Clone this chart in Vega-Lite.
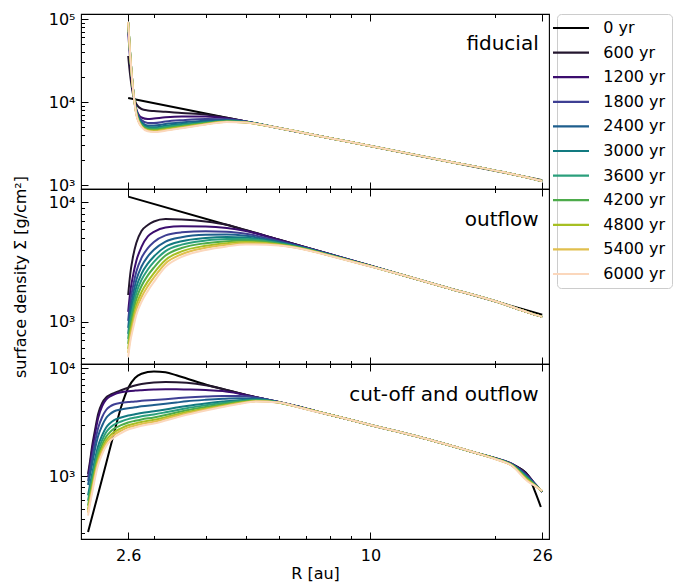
{
"$schema":"https://vega.github.io/schema/vega-lite/v6.json",
"background":"white",
"padding":{"left":11,"top":10,"right":0,"bottom":5},
"spacing":0,
"bounds":"flush",
"config":{
 "font":"DejaVu Sans",
 "view":{"stroke":"black","strokeWidth":1.1},
 "axis":{"labelFont":"DejaVu Sans","titleFont":"DejaVu Sans","labelColor":"black","titleColor":"black","tickColor":"black","tickWidth":1,"grid":false,"domain":false,"titleFontWeight":"normal","labelFontSize":16,"titleFontSize":16,"labelFlush":false,"labelOverlap":false,"labelBound":false},
 "legend":{"symbolType":"M-3,0H3","symbolStrokeWidth":2.2,"symbolSize":144,"labelFontSize":16,"labelFont":"DejaVu Sans","labelColor":"black","strokeColor":"#cccccc","fillColor":"white","cornerRadius":4,"padding":6,"rowPadding":8.6,"labelOffset":24.3,"orient":"right","offset":4}
},
"resolve":{"scale":{"x":"independent","y":"independent","color":"shared"},"legend":{"color":"shared"}},
"datasets":{
"fid":[
{"t":"0 yr","R":2.6,"S":11150},{"t":"0 yr","R":5,"S":5838},{"t":"0 yr","R":10,"S":2941},{"t":"0 yr","R":21,"S":1412},{"t":"0 yr","R":26,"S":1143},
{"t":"600 yr","R":2.6,"S":35830},{"t":"600 yr","R":2.63,"S":20570},{"t":"600 yr","R":2.67,"S":12490},{"t":"600 yr","R":2.72,"S":9460},{"t":"600 yr","R":2.8,"S":8236},{"t":"600 yr","R":2.9,"S":7900},{"t":"600 yr","R":3,"S":7791},{"t":"600 yr","R":3.2,"S":7640},{"t":"600 yr","R":3.5,"S":7372},{"t":"600 yr","R":4,"S":7070},{"t":"600 yr","R":4.5,"S":6451},{"t":"600 yr","R":5,"S":5824},{"t":"600 yr","R":6,"S":4861},{"t":"600 yr","R":8,"S":3664},{"t":"600 yr","R":10,"S":2951},{"t":"600 yr","R":15,"S":1979},{"t":"600 yr","R":21,"S":1422},{"t":"600 yr","R":24,"S":1231},{"t":"600 yr","R":26,"S":1117},
{"t":"1200 yr","R":2.6,"S":69720},{"t":"1200 yr","R":2.63,"S":31190},{"t":"1200 yr","R":2.67,"S":13570},{"t":"1200 yr","R":2.72,"S":8236},{"t":"1200 yr","R":2.8,"S":6506},{"t":"1200 yr","R":2.9,"S":6240},{"t":"1200 yr","R":3,"S":6327},{"t":"1200 yr","R":3.2,"S":6542},{"t":"1200 yr","R":3.5,"S":6688},{"t":"1200 yr","R":4,"S":6688},{"t":"1200 yr","R":4.5,"S":6362},{"t":"1200 yr","R":5,"S":5824},{"t":"1200 yr","R":6,"S":4861},{"t":"1200 yr","R":8,"S":3664},{"t":"1200 yr","R":10,"S":2951},{"t":"1200 yr","R":15,"S":1979},{"t":"1200 yr","R":21,"S":1422},{"t":"1200 yr","R":24,"S":1231},{"t":"1200 yr","R":26,"S":1117},
{"t":"1800 yr","R":2.6,"S":84660},{"t":"1800 yr","R":2.63,"S":34850},{"t":"1800 yr","R":2.67,"S":14340},{"t":"1800 yr","R":2.72,"S":8009},{"t":"1800 yr","R":2.8,"S":6069},{"t":"1800 yr","R":2.9,"S":5585},{"t":"1800 yr","R":3,"S":5585},{"t":"1800 yr","R":3.2,"S":5824},{"t":"1800 yr","R":3.5,"S":6035},{"t":"1800 yr","R":4,"S":6240},{"t":"1800 yr","R":4.5,"S":6189},{"t":"1800 yr","R":5,"S":5824},{"t":"1800 yr","R":6,"S":4861},{"t":"1800 yr","R":8,"S":3664},{"t":"1800 yr","R":10,"S":2951},{"t":"1800 yr","R":15,"S":1979},{"t":"1800 yr","R":21,"S":1422},{"t":"1800 yr","R":24,"S":1231},{"t":"1800 yr","R":26,"S":1117},
{"t":"2400 yr","R":2.6,"S":89480},{"t":"2400 yr","R":2.63,"S":36840},{"t":"2400 yr","R":2.67,"S":14750},{"t":"2400 yr","R":2.72,"S":7791},{"t":"2400 yr","R":2.8,"S":5741},{"t":"2400 yr","R":2.9,"S":5211},{"t":"2400 yr","R":3,"S":5211},{"t":"2400 yr","R":3.2,"S":5431},{"t":"2400 yr","R":3.5,"S":5662},{"t":"2400 yr","R":4,"S":5936},{"t":"2400 yr","R":4.5,"S":6035},{"t":"2400 yr","R":5,"S":5773},{"t":"2400 yr","R":6,"S":4861},{"t":"2400 yr","R":8,"S":3664},{"t":"2400 yr","R":10,"S":2951},{"t":"2400 yr","R":15,"S":1979},{"t":"2400 yr","R":21,"S":1422},{"t":"2400 yr","R":24,"S":1231},{"t":"2400 yr","R":26,"S":1117},
{"t":"3000 yr","R":2.6,"S":90730},{"t":"3000 yr","R":2.63,"S":36840},{"t":"3000 yr","R":2.67,"S":14750},{"t":"3000 yr","R":2.72,"S":7577},{"t":"3000 yr","R":2.8,"S":5508},{"t":"3000 yr","R":2.9,"S":4998},{"t":"3000 yr","R":3,"S":4957},{"t":"3000 yr","R":3.2,"S":5168},{"t":"3000 yr","R":3.5,"S":5431},{"t":"3000 yr","R":4,"S":5741},{"t":"3000 yr","R":4.5,"S":5936},{"t":"3000 yr","R":5,"S":5741},{"t":"3000 yr","R":6,"S":4861},{"t":"3000 yr","R":8,"S":3664},{"t":"3000 yr","R":10,"S":2951},{"t":"3000 yr","R":15,"S":1979},{"t":"3000 yr","R":21,"S":1422},{"t":"3000 yr","R":24,"S":1231},{"t":"3000 yr","R":26,"S":1117},
{"t":"3600 yr","R":2.6,"S":92010},{"t":"3600 yr","R":2.63,"S":36840},{"t":"3600 yr","R":2.67,"S":14750},{"t":"3600 yr","R":2.72,"S":7473},{"t":"3600 yr","R":2.8,"S":5357},{"t":"3600 yr","R":2.9,"S":4821},{"t":"3600 yr","R":3,"S":4794},{"t":"3600 yr","R":3.2,"S":4998},{"t":"3600 yr","R":3.5,"S":5254},{"t":"3600 yr","R":4,"S":5632},{"t":"3600 yr","R":4.5,"S":5871},{"t":"3600 yr","R":5,"S":5709},{"t":"3600 yr","R":6,"S":4861},{"t":"3600 yr","R":8,"S":3664},{"t":"3600 yr","R":10,"S":2951},{"t":"3600 yr","R":15,"S":1979},{"t":"3600 yr","R":21,"S":1422},{"t":"3600 yr","R":24,"S":1231},{"t":"3600 yr","R":26,"S":1117},
{"t":"4200 yr","R":2.6,"S":92010},{"t":"4200 yr","R":2.63,"S":36840},{"t":"4200 yr","R":2.67,"S":14750},{"t":"4200 yr","R":2.72,"S":7372},{"t":"4200 yr","R":2.8,"S":5240},{"t":"4200 yr","R":2.9,"S":4689},{"t":"4200 yr","R":3,"S":4638},{"t":"4200 yr","R":3.2,"S":4834},{"t":"4200 yr","R":3.5,"S":5110},{"t":"4200 yr","R":4,"S":5539},{"t":"4200 yr","R":4.5,"S":5824},{"t":"4200 yr","R":5,"S":5693},{"t":"4200 yr","R":6,"S":4861},{"t":"4200 yr","R":8,"S":3664},{"t":"4200 yr","R":10,"S":2951},{"t":"4200 yr","R":15,"S":1979},{"t":"4200 yr","R":21,"S":1422},{"t":"4200 yr","R":24,"S":1231},{"t":"4200 yr","R":26,"S":1117},
{"t":"4800 yr","R":2.6,"S":92010},{"t":"4800 yr","R":2.63,"S":36840},{"t":"4800 yr","R":2.67,"S":14750},{"t":"4800 yr","R":2.72,"S":7268},{"t":"4800 yr","R":2.8,"S":5138},{"t":"4800 yr","R":2.9,"S":4599},{"t":"4800 yr","R":3,"S":4523},{"t":"4800 yr","R":3.2,"S":4702},{"t":"4800 yr","R":3.5,"S":4998},{"t":"4800 yr","R":4,"S":5461},{"t":"4800 yr","R":4.5,"S":5790},{"t":"4800 yr","R":5,"S":5677},{"t":"4800 yr","R":6,"S":4861},{"t":"4800 yr","R":8,"S":3664},{"t":"4800 yr","R":10,"S":2951},{"t":"4800 yr","R":15,"S":1979},{"t":"4800 yr","R":21,"S":1422},{"t":"4800 yr","R":24,"S":1231},{"t":"4800 yr","R":26,"S":1117},
{"t":"5400 yr","R":2.6,"S":92010},{"t":"5400 yr","R":2.63,"S":36840},{"t":"5400 yr","R":2.67,"S":14750},{"t":"5400 yr","R":2.72,"S":7168},{"t":"5400 yr","R":2.8,"S":5068},{"t":"5400 yr","R":2.9,"S":4510},{"t":"5400 yr","R":3,"S":4424},{"t":"5400 yr","R":3.2,"S":4599},{"t":"5400 yr","R":3.5,"S":4902},{"t":"5400 yr","R":4,"S":5401},{"t":"5400 yr","R":4.5,"S":5773},{"t":"5400 yr","R":5,"S":5662},{"t":"5400 yr","R":6,"S":4861},{"t":"5400 yr","R":8,"S":3664},{"t":"5400 yr","R":10,"S":2951},{"t":"5400 yr","R":15,"S":1979},{"t":"5400 yr","R":21,"S":1422},{"t":"5400 yr","R":24,"S":1231},{"t":"5400 yr","R":26,"S":1117},
{"t":"6000 yr","R":2.6,"S":92010},{"t":"6000 yr","R":2.63,"S":36840},{"t":"6000 yr","R":2.67,"S":14750},{"t":"6000 yr","R":2.72,"S":7070},{"t":"6000 yr","R":2.8,"S":4998},{"t":"6000 yr","R":2.9,"S":4436},{"t":"6000 yr","R":3,"S":4351},{"t":"6000 yr","R":3.2,"S":4510},{"t":"6000 yr","R":3.5,"S":4834},{"t":"6000 yr","R":4,"S":5357},{"t":"6000 yr","R":4.5,"S":5741},{"t":"6000 yr","R":5,"S":5647},{"t":"6000 yr","R":6,"S":4861},{"t":"6000 yr","R":8,"S":3664},{"t":"6000 yr","R":10,"S":2951},{"t":"6000 yr","R":15,"S":1979},{"t":"6000 yr","R":21,"S":1422},{"t":"6000 yr","R":24,"S":1231},{"t":"6000 yr","R":26,"S":1117}
],
"out":[
{"t":"0 yr","R":2.6,"S":11150},{"t":"0 yr","R":5,"S":5838},{"t":"0 yr","R":10,"S":2941},{"t":"0 yr","R":21,"S":1412},{"t":"0 yr","R":26,"S":1143},
{"t":"600 yr","R":2.6,"S":1674},{"t":"600 yr","R":2.63,"S":2509},{"t":"600 yr","R":2.67,"S":3483},{"t":"600 yr","R":2.72,"S":4562},{"t":"600 yr","R":2.8,"S":5750},{"t":"600 yr","R":2.9,"S":6455},{"t":"600 yr","R":3,"S":6906},{"t":"600 yr","R":3.2,"S":7247},{"t":"600 yr","R":3.5,"S":7177},{"t":"600 yr","R":4,"S":6906},{"t":"600 yr","R":4.5,"S":6480},{"t":"600 yr","R":5,"S":5862},{"t":"600 yr","R":6,"S":4880},{"t":"600 yr","R":7,"S":4191},{"t":"600 yr","R":8,"S":3668},{"t":"600 yr","R":10,"S":2938},{"t":"600 yr","R":12,"S":2452},{"t":"600 yr","R":15,"S":1964},{"t":"600 yr","R":21,"S":1407},{"t":"600 yr","R":24,"S":1197},{"t":"600 yr","R":26,"S":1098},
{"t":"1200 yr","R":2.6,"S":1209},{"t":"1200 yr","R":2.63,"S":1777},{"t":"1200 yr","R":2.67,"S":2418},{"t":"1200 yr","R":2.72,"S":3229},{"t":"1200 yr","R":2.8,"S":4227},{"t":"1200 yr","R":2.9,"S":5174},{"t":"1200 yr","R":3,"S":5643},{"t":"1200 yr","R":3.2,"S":6154},{"t":"1200 yr","R":3.5,"S":6298},{"t":"1200 yr","R":4,"S":6273},{"t":"1200 yr","R":4.5,"S":6095},{"t":"1200 yr","R":5,"S":5753},{"t":"1200 yr","R":6,"S":4866},{"t":"1200 yr","R":7,"S":4194},{"t":"1200 yr","R":8,"S":3673},{"t":"1200 yr","R":10,"S":2943},{"t":"1200 yr","R":12,"S":2452},{"t":"1200 yr","R":15,"S":1964},{"t":"1200 yr","R":21,"S":1407},{"t":"1200 yr","R":24,"S":1197},{"t":"1200 yr","R":26,"S":1098},
{"t":"1800 yr","R":2.6,"S":1017},{"t":"1800 yr","R":2.63,"S":1466},{"t":"1800 yr","R":2.67,"S":1972},{"t":"1800 yr","R":2.72,"S":2622},{"t":"1800 yr","R":2.8,"S":3420},{"t":"1800 yr","R":2.9,"S":4130},{"t":"1800 yr","R":3,"S":4655},{"t":"1800 yr","R":3.2,"S":5285},{"t":"1800 yr","R":3.5,"S":5600},{"t":"1800 yr","R":4,"S":5731},{"t":"1800 yr","R":4.5,"S":5676},{"t":"1800 yr","R":5,"S":5461},{"t":"1800 yr","R":6,"S":4755},{"t":"1800 yr","R":7,"S":4154},{"t":"1800 yr","R":8,"S":3652},{"t":"1800 yr","R":10,"S":2937},{"t":"1800 yr","R":12,"S":2452},{"t":"1800 yr","R":15,"S":1964},{"t":"1800 yr","R":21,"S":1407},{"t":"1800 yr","R":24,"S":1197},{"t":"1800 yr","R":26,"S":1098},
{"t":"2400 yr","R":2.6,"S":888},{"t":"2400 yr","R":2.63,"S":1261},{"t":"2400 yr","R":2.67,"S":1680},{"t":"2400 yr","R":2.72,"S":2230},{"t":"2400 yr","R":2.8,"S":2898},{"t":"2400 yr","R":2.9,"S":3520},{"t":"2400 yr","R":3,"S":4006},{"t":"2400 yr","R":3.2,"S":4691},{"t":"2400 yr","R":3.5,"S":5105},{"t":"2400 yr","R":4,"S":5336},{"t":"2400 yr","R":4.5,"S":5367},{"t":"2400 yr","R":5,"S":5245},{"t":"2400 yr","R":6,"S":4673},{"t":"2400 yr","R":7,"S":4122},{"t":"2400 yr","R":8,"S":3631},{"t":"2400 yr","R":10,"S":2929},{"t":"2400 yr","R":12,"S":2452},{"t":"2400 yr","R":15,"S":1964},{"t":"2400 yr","R":21,"S":1407},{"t":"2400 yr","R":24,"S":1197},{"t":"2400 yr","R":26,"S":1098},
{"t":"3000 yr","R":2.6,"S":791},{"t":"3000 yr","R":2.63,"S":1108},{"t":"3000 yr","R":2.67,"S":1469},{"t":"3000 yr","R":2.72,"S":1941},{"t":"3000 yr","R":2.8,"S":2518},{"t":"3000 yr","R":2.9,"S":3065},{"t":"3000 yr","R":3,"S":3520},{"t":"3000 yr","R":3.2,"S":4243},{"t":"3000 yr","R":3.5,"S":4718},{"t":"3000 yr","R":4,"S":5027},{"t":"3000 yr","R":4.5,"S":5125},{"t":"3000 yr","R":5,"S":5066},{"t":"3000 yr","R":6,"S":4610},{"t":"3000 yr","R":7,"S":4091},{"t":"3000 yr","R":8,"S":3617},{"t":"3000 yr","R":10,"S":2926},{"t":"3000 yr","R":12,"S":2452},{"t":"3000 yr","R":15,"S":1964},{"t":"3000 yr","R":21,"S":1407},{"t":"3000 yr","R":24,"S":1197},{"t":"3000 yr","R":26,"S":1098},
{"t":"3600 yr","R":2.6,"S":719},{"t":"3600 yr","R":2.63,"S":997},{"t":"3600 yr","R":2.67,"S":1311},{"t":"3600 yr","R":2.72,"S":1730},{"t":"3600 yr","R":2.8,"S":2239},{"t":"3600 yr","R":2.9,"S":2736},{"t":"3600 yr","R":3,"S":3167},{"t":"3600 yr","R":3.2,"S":3899},{"t":"3600 yr","R":3.5,"S":4419},{"t":"3600 yr","R":4,"S":4782},{"t":"3600 yr","R":4.5,"S":4923},{"t":"3600 yr","R":5,"S":4923},{"t":"3600 yr","R":6,"S":4548},{"t":"3600 yr","R":7,"S":4068},{"t":"3600 yr","R":8,"S":3603},{"t":"3600 yr","R":10,"S":2921},{"t":"3600 yr","R":12,"S":2452},{"t":"3600 yr","R":15,"S":1964},{"t":"3600 yr","R":21,"S":1407},{"t":"3600 yr","R":24,"S":1197},{"t":"3600 yr","R":26,"S":1098},
{"t":"4200 yr","R":2.6,"S":653},{"t":"4200 yr","R":2.63,"S":895},{"t":"4200 yr","R":2.67,"S":1170},{"t":"4200 yr","R":2.72,"S":1541},{"t":"4200 yr","R":2.8,"S":1991},{"t":"4200 yr","R":2.9,"S":2442},{"t":"4200 yr","R":3,"S":2843},{"t":"4200 yr","R":3.2,"S":3582},{"t":"4200 yr","R":3.5,"S":4138},{"t":"4200 yr","R":4,"S":4548},{"t":"4200 yr","R":4.5,"S":4727},{"t":"4200 yr","R":5,"S":4782},{"t":"4200 yr","R":6,"S":4496},{"t":"4200 yr","R":7,"S":4052},{"t":"4200 yr","R":8,"S":3589},{"t":"4200 yr","R":10,"S":2915},{"t":"4200 yr","R":12,"S":2452},{"t":"4200 yr","R":15,"S":1964},{"t":"4200 yr","R":21,"S":1407},{"t":"4200 yr","R":24,"S":1197},{"t":"4200 yr","R":26,"S":1098},
{"t":"4800 yr","R":2.6,"S":593},{"t":"4800 yr","R":2.63,"S":805},{"t":"4800 yr","R":2.67,"S":1044},{"t":"4800 yr","R":2.72,"S":1373},{"t":"4800 yr","R":2.8,"S":1770},{"t":"4800 yr","R":2.9,"S":2175},{"t":"4800 yr","R":3,"S":2557},{"t":"4800 yr","R":3.2,"S":3291},{"t":"4800 yr","R":3.5,"S":3877},{"t":"4800 yr","R":4,"S":4326},{"t":"4800 yr","R":4.5,"S":4548},{"t":"4800 yr","R":5,"S":4646},{"t":"4800 yr","R":6,"S":4436},{"t":"4800 yr","R":7,"S":4029},{"t":"4800 yr","R":8,"S":3575},{"t":"4800 yr","R":10,"S":2909},{"t":"4800 yr","R":12,"S":2452},{"t":"4800 yr","R":15,"S":1964},{"t":"4800 yr","R":21,"S":1407},{"t":"4800 yr","R":24,"S":1197},{"t":"4800 yr","R":26,"S":1098},
{"t":"5400 yr","R":2.6,"S":549},{"t":"5400 yr","R":2.63,"S":738},{"t":"5400 yr","R":2.67,"S":954},{"t":"5400 yr","R":2.72,"S":1252},{"t":"5400 yr","R":2.8,"S":1611},{"t":"5400 yr","R":2.9,"S":1987},{"t":"5400 yr","R":3,"S":2345},{"t":"5400 yr","R":3.2,"S":3077},{"t":"5400 yr","R":3.5,"S":3673},{"t":"5400 yr","R":4,"S":4154},{"t":"5400 yr","R":4.5,"S":4402},{"t":"5400 yr","R":5,"S":4540},{"t":"5400 yr","R":6,"S":4393},{"t":"5400 yr","R":7,"S":4006},{"t":"5400 yr","R":8,"S":3568},{"t":"5400 yr","R":10,"S":2909},{"t":"5400 yr","R":12,"S":2452},{"t":"5400 yr","R":15,"S":1964},{"t":"5400 yr","R":21,"S":1407},{"t":"5400 yr","R":24,"S":1197},{"t":"5400 yr","R":26,"S":1098},
{"t":"6000 yr","R":2.6,"S":508},{"t":"6000 yr","R":2.63,"S":678},{"t":"6000 yr","R":2.67,"S":871},{"t":"6000 yr","R":2.72,"S":1141},{"t":"6000 yr","R":2.8,"S":1466},{"t":"6000 yr","R":2.9,"S":1812},{"t":"6000 yr","R":3,"S":2154},{"t":"6000 yr","R":3.2,"S":2876},{"t":"6000 yr","R":3.5,"S":3486},{"t":"6000 yr","R":4,"S":3990},{"t":"6000 yr","R":4.5,"S":4268},{"t":"6000 yr","R":5,"S":4436},{"t":"6000 yr","R":6,"S":4351},{"t":"6000 yr","R":7,"S":3990},{"t":"6000 yr","R":8,"S":3554},{"t":"6000 yr","R":10,"S":2904},{"t":"6000 yr","R":12,"S":2452},{"t":"6000 yr","R":15,"S":1964},{"t":"6000 yr","R":21,"S":1407},{"t":"6000 yr","R":24,"S":1197},{"t":"6000 yr","R":26,"S":1098}
],
"cut":[
{"t":"0 yr","R":2.08,"S":305},{"t":"0 yr","R":2.2,"S":686},{"t":"0 yr","R":2.3,"S":1314},{"t":"0 yr","R":2.4,"S":2464},{"t":"0 yr","R":2.5,"S":4382},{"t":"0 yr","R":2.6,"S":6570},{"t":"0 yr","R":2.7,"S":8132},{"t":"0 yr","R":2.8,"S":8894},{"t":"0 yr","R":3,"S":9360},{"t":"0 yr","R":3.2,"S":9182},{"t":"0 yr","R":3.4,"S":8614},{"t":"0 yr","R":3.6,"S":8046},{"t":"0 yr","R":4,"S":7079},{"t":"0 yr","R":4.4,"S":6432},{"t":"0 yr","R":4.8,"S":5906},{"t":"0 yr","R":5.3,"S":5389},{"t":"0 yr","R":6,"S":4875},{"t":"0 yr","R":6.6,"S":4477},{"t":"0 yr","R":7.5,"S":3939},{"t":"0 yr","R":8.5,"S":3503},{"t":"0 yr","R":10,"S":2986},{"t":"0 yr","R":11.5,"S":2627},{"t":"0 yr","R":13,"S":2336},{"t":"0 yr","R":15,"S":2012},{"t":"0 yr","R":18,"S":1644},{"t":"0 yr","R":20,"S":1462},{"t":"0 yr","R":22,"S":1286},{"t":"0 yr","R":24,"S":1028},{"t":"0 yr","R":25,"S":716},{"t":"0 yr","R":25.8,"S":520},
{"t":"600 yr","R":2.08,"S":1050},{"t":"600 yr","R":2.1,"S":1328},{"t":"600 yr","R":2.13,"S":1949},{"t":"600 yr","R":2.16,"S":2627},{"t":"600 yr","R":2.2,"S":3775},{"t":"600 yr","R":2.25,"S":4772},{"t":"600 yr","R":2.3,"S":5366},{"t":"600 yr","R":2.35,"S":5660},{"t":"600 yr","R":2.4,"S":5881},{"t":"600 yr","R":2.5,"S":6256},{"t":"600 yr","R":2.6,"S":6613},{"t":"600 yr","R":2.7,"S":6930},{"t":"600 yr","R":2.8,"S":7155},{"t":"600 yr","R":3,"S":7388},{"t":"600 yr","R":3.2,"S":7467},{"t":"600 yr","R":3.4,"S":7435},{"t":"600 yr","R":3.6,"S":7341},{"t":"600 yr","R":4,"S":6960},{"t":"600 yr","R":4.4,"S":6432},{"t":"600 yr","R":4.8,"S":5906},{"t":"600 yr","R":5.3,"S":5389},{"t":"600 yr","R":6,"S":4875},{"t":"600 yr","R":6.6,"S":4477},{"t":"600 yr","R":7.5,"S":3939},{"t":"600 yr","R":8.5,"S":3503},{"t":"600 yr","R":10,"S":2986},{"t":"600 yr","R":11.5,"S":2627},{"t":"600 yr","R":13,"S":2336},{"t":"600 yr","R":15,"S":2012},{"t":"600 yr","R":18,"S":1644},{"t":"600 yr","R":20,"S":1477},{"t":"600 yr","R":22,"S":1300},{"t":"600 yr","R":24,"S":1028},{"t":"600 yr","R":25,"S":849},{"t":"600 yr","R":26,"S":716},
{"t":"1200 yr","R":2.08,"S":985},{"t":"1200 yr","R":2.1,"S":1246},{"t":"1200 yr","R":2.13,"S":1790},{"t":"1200 yr","R":2.16,"S":2412},{"t":"1200 yr","R":2.2,"S":3466},{"t":"1200 yr","R":2.25,"S":4477},{"t":"1200 yr","R":2.3,"S":5142},{"t":"1200 yr","R":2.35,"S":5481},{"t":"1200 yr","R":2.4,"S":5720},{"t":"1200 yr","R":2.5,"S":5995},{"t":"1200 yr","R":2.6,"S":6137},{"t":"1200 yr","R":2.7,"S":6216},{"t":"1200 yr","R":2.8,"S":6269},{"t":"1200 yr","R":3,"S":6350},{"t":"1200 yr","R":3.2,"S":6391},{"t":"1200 yr","R":3.4,"S":6391},{"t":"1200 yr","R":3.6,"S":6364},{"t":"1200 yr","R":4,"S":6296},{"t":"1200 yr","R":4.4,"S":6163},{"t":"1200 yr","R":4.8,"S":5843},{"t":"1200 yr","R":5.3,"S":5389},{"t":"1200 yr","R":6,"S":4875},{"t":"1200 yr","R":6.6,"S":4477},{"t":"1200 yr","R":7.5,"S":3939},{"t":"1200 yr","R":8.5,"S":3503},{"t":"1200 yr","R":10,"S":2986},{"t":"1200 yr","R":11.5,"S":2627},{"t":"1200 yr","R":13,"S":2336},{"t":"1200 yr","R":15,"S":2012},{"t":"1200 yr","R":18,"S":1644},{"t":"1200 yr","R":20,"S":1474},{"t":"1200 yr","R":22,"S":1294},{"t":"1200 yr","R":24,"S":1013},{"t":"1200 yr","R":25,"S":845},{"t":"1200 yr","R":26,"S":717},
{"t":"1800 yr","R":2.08,"S":905},{"t":"1800 yr","R":2.1,"S":1120},{"t":"1800 yr","R":2.13,"S":1542},{"t":"1800 yr","R":2.16,"S":2034},{"t":"1800 yr","R":2.2,"S":2801},{"t":"1800 yr","R":2.25,"S":3541},{"t":"1800 yr","R":2.3,"S":4110},{"t":"1800 yr","R":2.35,"S":4429},{"t":"1800 yr","R":2.4,"S":4622},{"t":"1800 yr","R":2.5,"S":4793},{"t":"1800 yr","R":2.6,"S":4865},{"t":"1800 yr","R":2.7,"S":4927},{"t":"1800 yr","R":2.8,"S":5001},{"t":"1800 yr","R":3,"S":5087},{"t":"1800 yr","R":3.2,"S":5175},{"t":"1800 yr","R":3.4,"S":5275},{"t":"1800 yr","R":3.6,"S":5366},{"t":"1800 yr","R":4,"S":5481},{"t":"1800 yr","R":4.4,"S":5540},{"t":"1800 yr","R":4.8,"S":5540},{"t":"1800 yr","R":5.3,"S":5366},{"t":"1800 yr","R":6,"S":4875},{"t":"1800 yr","R":6.6,"S":4477},{"t":"1800 yr","R":7.5,"S":3939},{"t":"1800 yr","R":8.5,"S":3503},{"t":"1800 yr","R":10,"S":2986},{"t":"1800 yr","R":11.5,"S":2627},{"t":"1800 yr","R":13,"S":2336},{"t":"1800 yr","R":15,"S":2012},{"t":"1800 yr","R":18,"S":1644},{"t":"1800 yr","R":20,"S":1470},{"t":"1800 yr","R":22,"S":1288},{"t":"1800 yr","R":24,"S":998},{"t":"1800 yr","R":25,"S":841},{"t":"1800 yr","R":26,"S":719},
{"t":"2400 yr","R":2.08,"S":831},{"t":"2400 yr","R":2.1,"S":1006},{"t":"2400 yr","R":2.13,"S":1328},{"t":"2400 yr","R":2.16,"S":1752},{"t":"2400 yr","R":2.2,"S":2361},{"t":"2400 yr","R":2.25,"S":2954},{"t":"2400 yr","R":2.3,"S":3466},{"t":"2400 yr","R":2.35,"S":3775},{"t":"2400 yr","R":2.4,"S":3981},{"t":"2400 yr","R":2.5,"S":4155},{"t":"2400 yr","R":2.6,"S":4262},{"t":"2400 yr","R":2.7,"S":4354},{"t":"2400 yr","R":2.8,"S":4448},{"t":"2400 yr","R":3,"S":4573},{"t":"2400 yr","R":3.2,"S":4692},{"t":"2400 yr","R":3.4,"S":4823},{"t":"2400 yr","R":3.6,"S":4948},{"t":"2400 yr","R":4,"S":5109},{"t":"2400 yr","R":4.4,"S":5219},{"t":"2400 yr","R":4.8,"S":5275},{"t":"2400 yr","R":5.3,"S":5253},{"t":"2400 yr","R":6,"S":4854},{"t":"2400 yr","R":6.6,"S":4457},{"t":"2400 yr","R":7.5,"S":3939},{"t":"2400 yr","R":8.5,"S":3503},{"t":"2400 yr","R":10,"S":2986},{"t":"2400 yr","R":11.5,"S":2627},{"t":"2400 yr","R":13,"S":2336},{"t":"2400 yr","R":15,"S":2012},{"t":"2400 yr","R":18,"S":1644},{"t":"2400 yr","R":20,"S":1467},{"t":"2400 yr","R":22,"S":1280},{"t":"2400 yr","R":24,"S":981},{"t":"2400 yr","R":25,"S":836},{"t":"2400 yr","R":26,"S":721},
{"t":"3000 yr","R":2.08,"S":666},{"t":"3000 yr","R":2.1,"S":815},{"t":"3000 yr","R":2.13,"S":1075},{"t":"3000 yr","R":2.16,"S":1419},{"t":"3000 yr","R":2.2,"S":1912},{"t":"3000 yr","R":2.25,"S":2402},{"t":"3000 yr","R":2.3,"S":2831},{"t":"3000 yr","R":2.35,"S":3102},{"t":"3000 yr","R":2.4,"S":3300},{"t":"3000 yr","R":2.5,"S":3503},{"t":"3000 yr","R":2.6,"S":3656},{"t":"3000 yr","R":2.7,"S":3758},{"t":"3000 yr","R":2.8,"S":3864},{"t":"3000 yr","R":3,"S":3998},{"t":"3000 yr","R":3.2,"S":4155},{"t":"3000 yr","R":3.4,"S":4326},{"t":"3000 yr","R":3.6,"S":4486},{"t":"3000 yr","R":4,"S":4732},{"t":"3000 yr","R":4.4,"S":4917},{"t":"3000 yr","R":4.8,"S":5066},{"t":"3000 yr","R":5.3,"S":5142},{"t":"3000 yr","R":6,"S":4844},{"t":"3000 yr","R":6.6,"S":4448},{"t":"3000 yr","R":7.5,"S":3939},{"t":"3000 yr","R":8.5,"S":3503},{"t":"3000 yr","R":10,"S":2986},{"t":"3000 yr","R":11.5,"S":2627},{"t":"3000 yr","R":13,"S":2336},{"t":"3000 yr","R":15,"S":2012},{"t":"3000 yr","R":18,"S":1644},{"t":"3000 yr","R":20,"S":1464},{"t":"3000 yr","R":22,"S":1274},{"t":"3000 yr","R":24,"S":967},{"t":"3000 yr","R":25,"S":832},{"t":"3000 yr","R":26,"S":722},
{"t":"3600 yr","R":2.08,"S":594},{"t":"3600 yr","R":2.1,"S":734},{"t":"3600 yr","R":2.13,"S":969},{"t":"3600 yr","R":2.16,"S":1278},{"t":"3600 yr","R":2.2,"S":1722},{"t":"3600 yr","R":2.25,"S":2168},{"t":"3600 yr","R":2.3,"S":2555},{"t":"3600 yr","R":2.35,"S":2813},{"t":"3600 yr","R":2.4,"S":2998},{"t":"3600 yr","R":2.5,"S":3217},{"t":"3600 yr","R":2.6,"S":3386},{"t":"3600 yr","R":2.7,"S":3496},{"t":"3600 yr","R":2.8,"S":3602},{"t":"3600 yr","R":3,"S":3743},{"t":"3600 yr","R":3.2,"S":3914},{"t":"3600 yr","R":3.4,"S":4093},{"t":"3600 yr","R":3.6,"S":4271},{"t":"3600 yr","R":4,"S":4544},{"t":"3600 yr","R":4.4,"S":4772},{"t":"3600 yr","R":4.8,"S":4959},{"t":"3600 yr","R":5.3,"S":5087},{"t":"3600 yr","R":6,"S":4834},{"t":"3600 yr","R":6.6,"S":4439},{"t":"3600 yr","R":7.5,"S":3939},{"t":"3600 yr","R":8.5,"S":3503},{"t":"3600 yr","R":10,"S":2986},{"t":"3600 yr","R":11.5,"S":2627},{"t":"3600 yr","R":13,"S":2336},{"t":"3600 yr","R":15,"S":2012},{"t":"3600 yr","R":18,"S":1644},{"t":"3600 yr","R":20,"S":1459},{"t":"3600 yr","R":22,"S":1269},{"t":"3600 yr","R":24,"S":952},{"t":"3600 yr","R":25,"S":828},{"t":"3600 yr","R":26,"S":724},
{"t":"4200 yr","R":2.08,"S":536},{"t":"4200 yr","R":2.1,"S":666},{"t":"4200 yr","R":2.13,"S":878},{"t":"4200 yr","R":2.16,"S":1159},{"t":"4200 yr","R":2.2,"S":1562},{"t":"4200 yr","R":2.25,"S":1966},{"t":"4200 yr","R":2.3,"S":2322},{"t":"4200 yr","R":2.35,"S":2566},{"t":"4200 yr","R":2.4,"S":2747},{"t":"4200 yr","R":2.5,"S":2973},{"t":"4200 yr","R":2.6,"S":3149},{"t":"4200 yr","R":2.7,"S":3265},{"t":"4200 yr","R":2.8,"S":3364},{"t":"4200 yr","R":3,"S":3511},{"t":"4200 yr","R":3.2,"S":3695},{"t":"4200 yr","R":3.4,"S":3897},{"t":"4200 yr","R":3.6,"S":4084},{"t":"4200 yr","R":4,"S":4382},{"t":"4200 yr","R":4.4,"S":4642},{"t":"4200 yr","R":4.8,"S":4865},{"t":"4200 yr","R":5.3,"S":5033},{"t":"4200 yr","R":6,"S":4834},{"t":"4200 yr","R":6.6,"S":4439},{"t":"4200 yr","R":7.5,"S":3939},{"t":"4200 yr","R":8.5,"S":3503},{"t":"4200 yr","R":10,"S":2986},{"t":"4200 yr","R":11.5,"S":2627},{"t":"4200 yr","R":13,"S":2336},{"t":"4200 yr","R":15,"S":2012},{"t":"4200 yr","R":18,"S":1644},{"t":"4200 yr","R":20,"S":1456},{"t":"4200 yr","R":22,"S":1263},{"t":"4200 yr","R":24,"S":938},{"t":"4200 yr","R":25,"S":825},{"t":"4200 yr","R":26,"S":726},
{"t":"4800 yr","R":2.08,"S":492},{"t":"4800 yr","R":2.1,"S":614},{"t":"4800 yr","R":2.13,"S":810},{"t":"4800 yr","R":2.16,"S":1068},{"t":"4800 yr","R":2.2,"S":1440},{"t":"4800 yr","R":2.25,"S":1817},{"t":"4800 yr","R":2.3,"S":2150},{"t":"4800 yr","R":2.35,"S":2382},{"t":"4800 yr","R":2.4,"S":2555},{"t":"4800 yr","R":2.5,"S":2783},{"t":"4800 yr","R":2.6,"S":2967},{"t":"4800 yr","R":2.7,"S":3083},{"t":"4800 yr","R":2.8,"S":3189},{"t":"4800 yr","R":3,"S":3335},{"t":"4800 yr","R":3.2,"S":3526},{"t":"4800 yr","R":3.4,"S":3735},{"t":"4800 yr","R":3.6,"S":3931},{"t":"4800 yr","R":4,"S":4253},{"t":"4800 yr","R":4.4,"S":4534},{"t":"4800 yr","R":4.8,"S":4782},{"t":"4800 yr","R":5.3,"S":4991},{"t":"4800 yr","R":6,"S":4834},{"t":"4800 yr","R":6.6,"S":4439},{"t":"4800 yr","R":7.5,"S":3939},{"t":"4800 yr","R":8.5,"S":3503},{"t":"4800 yr","R":10,"S":2986},{"t":"4800 yr","R":11.5,"S":2627},{"t":"4800 yr","R":13,"S":2336},{"t":"4800 yr","R":15,"S":2012},{"t":"4800 yr","R":18,"S":1644},{"t":"4800 yr","R":20,"S":1453},{"t":"4800 yr","R":22,"S":1256},{"t":"4800 yr","R":24,"S":922},{"t":"4800 yr","R":25,"S":820},{"t":"4800 yr","R":26,"S":728},
{"t":"5400 yr","R":2.08,"S":461},{"t":"5400 yr","R":2.1,"S":577},{"t":"5400 yr","R":2.13,"S":761},{"t":"5400 yr","R":2.16,"S":1004},{"t":"5400 yr","R":2.2,"S":1354},{"t":"5400 yr","R":2.25,"S":1708},{"t":"5400 yr","R":2.3,"S":2025},{"t":"5400 yr","R":2.35,"S":2248},{"t":"5400 yr","R":2.4,"S":2418},{"t":"5400 yr","R":2.5,"S":2650},{"t":"5400 yr","R":2.6,"S":2837},{"t":"5400 yr","R":2.7,"S":2954},{"t":"5400 yr","R":2.8,"S":3056},{"t":"5400 yr","R":3,"S":3203},{"t":"5400 yr","R":3.2,"S":3407},{"t":"5400 yr","R":3.4,"S":3617},{"t":"5400 yr","R":3.6,"S":3815},{"t":"5400 yr","R":4,"S":4163},{"t":"5400 yr","R":4.4,"S":4457},{"t":"5400 yr","R":4.8,"S":4732},{"t":"5400 yr","R":5.3,"S":4959},{"t":"5400 yr","R":6,"S":4823},{"t":"5400 yr","R":6.6,"S":4429},{"t":"5400 yr","R":7.5,"S":3939},{"t":"5400 yr","R":8.5,"S":3503},{"t":"5400 yr","R":10,"S":2986},{"t":"5400 yr","R":11.5,"S":2627},{"t":"5400 yr","R":13,"S":2336},{"t":"5400 yr","R":15,"S":2012},{"t":"5400 yr","R":18,"S":1644},{"t":"5400 yr","R":20,"S":1449},{"t":"5400 yr","R":22,"S":1251},{"t":"5400 yr","R":24,"S":909},{"t":"5400 yr","R":25,"S":816},{"t":"5400 yr","R":26,"S":729},
{"t":"6000 yr","R":2.08,"S":432},{"t":"6000 yr","R":2.1,"S":542},{"t":"6000 yr","R":2.13,"S":716},{"t":"6000 yr","R":2.16,"S":944},{"t":"6000 yr","R":2.2,"S":1273},{"t":"6000 yr","R":2.25,"S":1609},{"t":"6000 yr","R":2.3,"S":1908},{"t":"6000 yr","R":2.35,"S":2123},{"t":"6000 yr","R":2.4,"S":2287},{"t":"6000 yr","R":2.5,"S":2517},{"t":"6000 yr","R":2.6,"S":2712},{"t":"6000 yr","R":2.7,"S":2831},{"t":"6000 yr","R":2.8,"S":2935},{"t":"6000 yr","R":3,"S":3083},{"t":"6000 yr","R":3.2,"S":3286},{"t":"6000 yr","R":3.4,"S":3503},{"t":"6000 yr","R":3.6,"S":3711},{"t":"6000 yr","R":4,"S":4067},{"t":"6000 yr","R":4.4,"S":4382},{"t":"6000 yr","R":4.8,"S":4672},{"t":"6000 yr","R":5.3,"S":4927},{"t":"6000 yr","R":6,"S":4823},{"t":"6000 yr","R":6.6,"S":4429},{"t":"6000 yr","R":7.5,"S":3914},{"t":"6000 yr","R":8.5,"S":3503},{"t":"6000 yr","R":10,"S":2986},{"t":"6000 yr","R":11.5,"S":2627},{"t":"6000 yr","R":13,"S":2336},{"t":"6000 yr","R":15,"S":2012},{"t":"6000 yr","R":18,"S":1644},{"t":"6000 yr","R":20,"S":1446},{"t":"6000 yr","R":22,"S":1246},{"t":"6000 yr","R":24,"S":895},{"t":"6000 yr","R":25,"S":813},{"t":"6000 yr","R":26,"S":731}
]
},
"vconcat":[
{"width":468,"height":175,"data":{"name":"fid"},
 "layer":[
  {"mark":{"type":"line","strokeWidth":2,"interpolate":"monotone","clip":true},
   "encoding":{
    "x":{"field":"R","type":"quantitative","scale":{"type":"log","domain":[2,27],"nice":false},"axis":{"orient":"bottom","values":[2.6,3,4,5,6,7,8,9,10,20,26],"labels":false,"title":null,"tickSize":{"condition":{"test":"datum.value==2.6||datum.value==10||datum.value==26","value":-7},"value":-3.5}}},
    "y":{"field":"S","type":"quantitative","scale":{"type":"log","domain":[895,114900],"nice":false},"axis":{"values":[1000,2000,3000,4000,5000,6000,7000,8000,9000,10000,20000,30000,40000,50000,60000,70000,80000,90000,100000],"labelExpr":"datum.value==1000?'10³':datum.value==10000?'10⁴':datum.value==100000?'10⁵':''","tickSize":{"condition":{"test":"datum.value==1000||datum.value==10000||datum.value==100000","value":-7},"value":-3.5},"labelPadding":13,"title":null}},
    "color":{"field":"t","type":"nominal","title":null,"scale":{"domain":["0 yr","600 yr","1200 yr","1800 yr","2400 yr","3000 yr","3600 yr","4200 yr","4800 yr","5400 yr","6000 yr"],"range":["#000000","#24172f","#3b0d6e","#3e3f93","#1e5e8d","#127a80","#2b9f7c","#4dab4b","#a6bf23","#e1bf4e","#fbd7bc"]}}
   }},
  {"data":{"values":[{"label":"fiducial"}]},
   "mark":{"type":"text","align":"right","baseline":"alphabetic","fontSize":20,"font":"DejaVu Sans","color":"black"},
   "encoding":{"text":{"field":"label"},
    "x":{"datum":25.5,"type":"quantitative","axis":{"orient":"top","values":[2.6,3,4,5,6,7,8,9,10,20,26],"labels":false,"title":null,"tickSize":{"condition":{"test":"datum.value==2.6||datum.value==10||datum.value==26","value":-7},"value":-3.5}}},
    "y":{"datum":42300,"type":"quantitative"}}}
 ],
 "resolve":{"axis":{"x":"independent"}}
},
{"width":468,"height":175,"data":{"name":"out"},
 "layer":[
  {"mark":{"type":"line","strokeWidth":2,"interpolate":"monotone","clip":true},
   "encoding":{
    "x":{"field":"R","type":"quantitative","scale":{"type":"log","domain":[2,27],"nice":false},"axis":{"orient":"bottom","values":[2.6,3,4,5,6,7,8,9,10,20,26],"labels":false,"title":null,"tickSize":{"condition":{"test":"datum.value==2.6||datum.value==10||datum.value==26","value":-7},"value":-3.5}}},
    "y":{"field":"S","type":"quantitative","scale":{"type":"log","domain":[442.3,12924],"nice":false},"axis":{"values":[500,600,700,800,900,1000,2000,3000,4000,5000,6000,7000,8000,9000,10000],"labelExpr":"datum.value==1000?'10³':datum.value==10000?'10⁴':''","tickSize":{"condition":{"test":"datum.value==1000||datum.value==10000","value":-7},"value":-3.5},"labelPadding":13,"title":"surface density Σ [g/cm²]","titlePadding":20}},
    "color":{"field":"t","type":"nominal","title":null,"scale":{"domain":["0 yr","600 yr","1200 yr","1800 yr","2400 yr","3000 yr","3600 yr","4200 yr","4800 yr","5400 yr","6000 yr"],"range":["#000000","#24172f","#3b0d6e","#3e3f93","#1e5e8d","#127a80","#2b9f7c","#4dab4b","#a6bf23","#e1bf4e","#fbd7bc"]}}
   }},
  {"data":{"values":[{"label":"outflow"}]},
   "mark":{"type":"text","align":"right","baseline":"alphabetic","fontSize":20,"font":"DejaVu Sans","color":"black"},
   "encoding":{"text":{"field":"label"},
    "x":{"datum":25.5,"type":"quantitative","axis":{"orient":"top","values":[2.6,3,4,5,6,7,8,9,10,20,26],"labels":false,"title":null,"tickSize":{"condition":{"test":"datum.value==2.6||datum.value==10||datum.value==26","value":-7},"value":-3.5}}},
    "y":{"datum":6331,"type":"quantitative"}}}
 ],
 "resolve":{"axis":{"x":"independent"}}
},
{"width":468,"height":175,"data":{"name":"cut"},
 "layer":[
  {"mark":{"type":"line","strokeWidth":2,"interpolate":"monotone","clip":true},
   "encoding":{
    "x":{"field":"R","type":"quantitative","scale":{"type":"log","domain":[2,27],"nice":false},"axis":{"orient":"bottom","values":[2.6,3,4,5,6,7,8,9,10,20,26],"labelExpr":"datum.value==2.6?'2.6':datum.value==10?'10':datum.value==26?'26':''","labelPadding":15.5,"title":"R [au]","titlePadding":-1.5,"tickSize":{"condition":{"test":"datum.value==2.6||datum.value==10||datum.value==26","value":-7},"value":-3.5}}},
    "y":{"field":"S","type":"quantitative","scale":{"type":"log","domain":[262.7,10960],"nice":false},"axis":{"values":[300,400,500,600,700,800,900,1000,2000,3000,4000,5000,6000,7000,8000,9000,10000],"labelExpr":"datum.value==1000?'10³':datum.value==10000?'10⁴':''","tickSize":{"condition":{"test":"datum.value==1000||datum.value==10000","value":-7},"value":-3.5},"labelPadding":13,"title":null}},
    "color":{"field":"t","type":"nominal","title":null,"scale":{"domain":["0 yr","600 yr","1200 yr","1800 yr","2400 yr","3000 yr","3600 yr","4200 yr","4800 yr","5400 yr","6000 yr"],"range":["#000000","#24172f","#3b0d6e","#3e3f93","#1e5e8d","#127a80","#2b9f7c","#4dab4b","#a6bf23","#e1bf4e","#fbd7bc"]}}
   }},
  {"data":{"values":[{"label":"cut-off and outflow"}]},
   "mark":{"type":"text","align":"right","baseline":"alphabetic","fontSize":20,"font":"DejaVu Sans","color":"black"},
   "encoding":{"text":{"field":"label"},
    "x":{"datum":25.5,"type":"quantitative","axis":{"orient":"top","values":[2.6,3,4,5,6,7,8,9,10,20,26],"labels":false,"title":null,"tickSize":{"condition":{"test":"datum.value==2.6||datum.value==10||datum.value==26","value":-7},"value":-3.5}}},
    "y":{"datum":4980,"type":"quantitative"}}}
 ],
 "resolve":{"axis":{"x":"independent"}}
}
]
}
